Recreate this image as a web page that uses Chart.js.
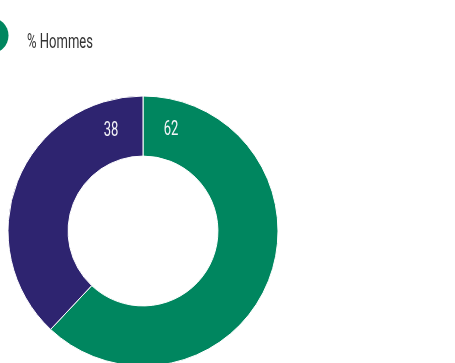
<!DOCTYPE html>
<html>
<head>
<meta charset="utf-8">
<script src="https://cdn.jsdelivr.net/npm/chart.js@4"></script>
<style>
  html, body { margin: 0; padding: 0; background: #fff; overflow: hidden; width: 455px; height: 363px; }
  #wrap { position: absolute; left: 0; top: 0; width: 455px; height: 402px; }
</style>
</head>
<body>
<div id="wrap"><canvas id="donut"></canvas></div>
<script>
// values
const labels = ['% Hommes', '% Femmes'];
const values = [62, 38];
const colors = ['#00865f', '#2e2470'];

// no condensed font installed, so text gets squeezed horizontally
const font = "Roboto, 'Liberation Sans', sans-serif";
const squeeze = 0.62;

function narrowText(ctx, text, x, y, align) {
    ctx.save();
    ctx.translate(x, y);
    ctx.scale(squeeze, 1);
    ctx.textAlign = align;
    ctx.fillText(text, 0, 0);
    ctx.restore();
}

// legend: only the first item, big dot half off the left edge
const narrowLegend = {
    id: 'narrowLegend',
    afterDraw(chart) {
        const ctx = chart.ctx;
        const ds = chart.data.datasets[0];
        ctx.save();
        ctx.fillStyle = ds.backgroundColor[0];
        ctx.beginPath();
        ctx.arc(-9.5, 35.5, 18, 0, Math.PI * 2);
        ctx.fill();
        ctx.fillStyle = '#333333';
        ctx.font = "21px " + font;
        ctx.textBaseline = 'alphabetic';
        narrowText(ctx, chart.data.labels[0], 27, 48, 'left');
        ctx.restore();
    }
};

// white value labels next to the top divider
const valueLabels = {
    id: 'valueLabels',
    afterDatasetsDraw(chart) {
        const ctx = chart.ctx;
        const meta = chart.getDatasetMeta(0);
        ctx.save();
        ctx.fillStyle = '#f4f4f8';
        ctx.font = "21px " + font;
        ctx.textBaseline = 'middle';
        meta.data.forEach(function (arc, i) {
            const p = arc.getProps(['x', 'y', 'startAngle', 'endAngle', 'innerRadius', 'outerRadius'], true);
            const a = i === 0 ? p.startAngle + 0.27 : p.endAngle - 0.31;
            const r = (p.innerRadius + p.outerRadius) / 2;
            narrowText(ctx, String(chart.data.datasets[0].data[i]), p.x + Math.cos(a) * r, p.y + Math.sin(a) * r, 'center');
        });
        ctx.restore();
    }
};

new Chart(document.getElementById('donut'), {
    type: 'doughnut',
    data: {
        labels: labels,
        datasets: [{
            data: values,
            backgroundColor: colors,
            borderColor: '#ffffff',
            borderWidth: 1
        }]
    },
    options: {
        responsive: true,
        maintainAspectRatio: false,
        animation: false,
        cutout: '55.5%',
        radius: 135,
        layout: {
            padding: { top: 60, left: 0, right: 169, bottom: 0 }
        },
        plugins: {
            legend: { display: false },
            tooltip: { enabled: false }
        }
    },
    plugins: [valueLabels, narrowLegend]
});
</script>
</body>
</html>
